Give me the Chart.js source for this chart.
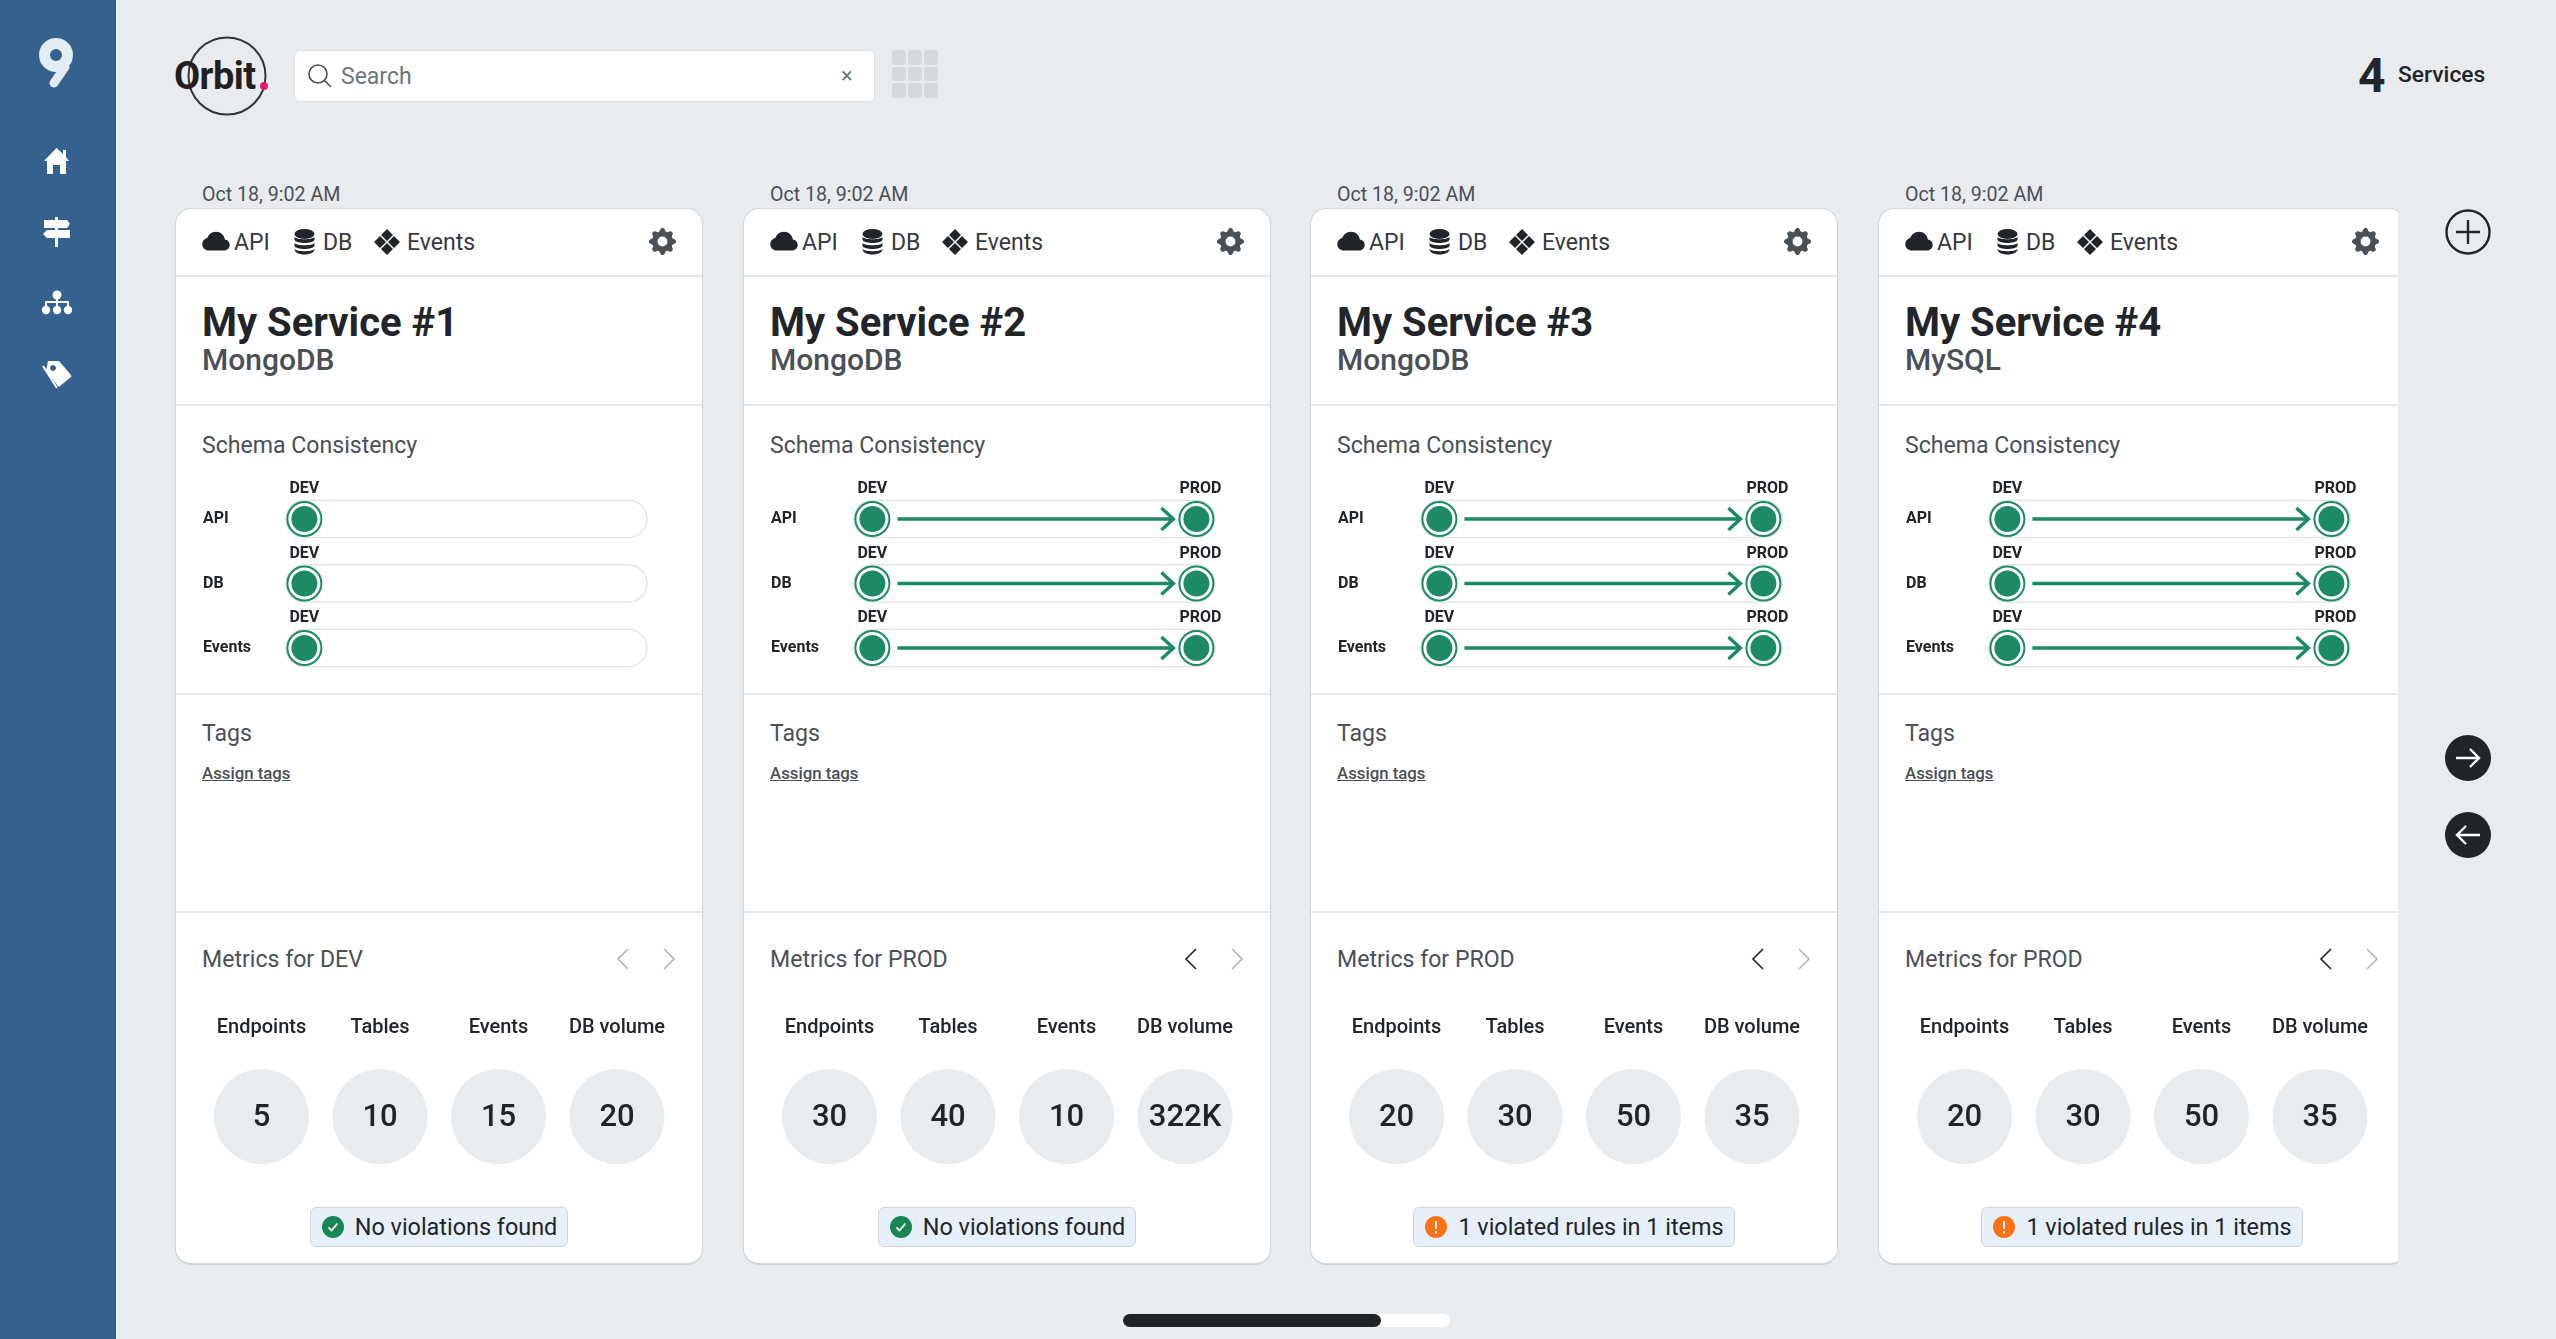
<!DOCTYPE html>
<html>
<head>
<meta charset="utf-8">
<title>Orbit services</title>
<script src="https://cdn.jsdelivr.net/npm/chart.js@4"></script>
<style>
html, body { margin: 0; padding: 0; width: 2556px; height: 1339px; overflow: hidden; background: #e9ecef; font-family: Roboto, sans-serif; color: #212529; }
.abs { position: absolute; }
#sidebar { left: 0; top: 0; width: 116px; height: 1339px; background: #35618f; }
#orbit { left: 181px; top: 36px; width: 92px; height: 80px; }
#orbitText { left: 174px; top: 54px; font: 700 38px Roboto, sans-serif; letter-spacing: -0.6px; color: #231f20; }
#search { left: 294px; top: 50px; width: 581px; height: 52px; background: #fff; border: 1px solid #dee2e6; border-radius: 6px; box-sizing: border-box; }
#searchText { left: 341px; top: 63px; font-size: 23px; color: #6c757d; }
#searchX { left: 841px; top: 63px; font-size: 22px; color: #6c757d; }
#grid { left: 892px; top: 50px; width: 48px; display: grid; grid-template-columns: repeat(3, 14px); grid-auto-rows: 14.5px; gap: 2px; }
#grid div { background: #d6d9dc; border-radius: 3px; }
#count { left: 2358px; top: 47px; font: 700 48px Roboto, sans-serif; }
#countLabel { left: 2398px; top: 61px; font: 500 22.8px Roboto, sans-serif; }
#clip { left: 0; top: 170px; width: 2398px; height: 1110px; overflow: hidden; }
.card { position: absolute; top: 38px; width: 528px; height: 1057px; background: #fff; border: 1px solid #ced4da; border-bottom-width: 2px; border-radius: 16px; box-sizing: border-box; }
.date { position: absolute; top: 12.5px; font-size: 19.6px; color: #495057; }
.t { position: absolute; white-space: nowrap; }
.rule { position: absolute; left: 0; width: 100%; height: 2px; background: #e4e7ea; }
.sec { font-size: 23.1px; color: #495057; left: 26px; }
.head { font-size: 23px; color: #343a40; }
.badge { position: absolute; top: 998px; height: 40px; left: 0; right: 0; display: flex; justify-content: center; }
.badge div { display: flex; align-items: center; height: 40px; box-sizing: border-box; background: #e7f0fa; border: 1px solid #ced4da; border-radius: 6px; padding: 0 10px 0 11px; font-size: 23.4px; color: #212529; }
.badge svg { margin-right: 11px; }
canvas { position: absolute; }
#track { left: 1123px; top: 1314px; width: 327px; height: 13px; background: #fff; border-radius: 7px; }
#thumb { left: 1123px; top: 1314px; width: 258px; height: 13px; background: #212529; border-radius: 7px; }
</style>
</head>
<body>
<div class="abs" id="sidebar"></div>
<svg class="abs" style="left:36px;top:36px" width="40" height="54" viewBox="0 0 40 54" fill="none" stroke="#e3ebf3"><circle cx="20" cy="19" r="11.5" stroke-width="11"/><path d="M29 31L18 47" stroke-width="9" stroke-linecap="round"/></svg>
<svg class="abs" style="left:44px;top:148px" width="25" height="26" viewBox="0 0 25 26"><path d="M12.5 0L19 6V2h3v7l3 4h-3v13h-6v-9H9v9H3V13H0z" fill="#fff"/></svg>
<svg class="abs" style="left:43px;top:217px" width="28" height="31" viewBox="0 0 28 31" fill="#fff"><path d="M1 3H24L27 7L24 11H1Z"/><path d="M4 13H27V21H4L0 17Z"/><rect x="12" y="0" width="3" height="30"/></svg>
<svg class="abs" style="left:41px;top:290px" width="32" height="25" viewBox="0 0 32 25" fill="#fff"><circle cx="16" cy="5" r="4.500"/><rect x="15" y="8" width="2" height="8"/><rect x="4" y="11" width="24" height="2"/><rect x="4" y="11" width="2" height="6"/><rect x="26" y="11" width="2" height="6"/><circle cx="5" cy="20" r="4.200"/><circle cx="16" cy="20" r="4.200"/><circle cx="27" cy="20" r="4.200"/></svg>
<svg class="abs" style="left:41px;top:360px" width="31" height="30" viewBox="0 0 31 30"><path fill-rule="evenodd" d="M7 1h11l12 14c.5 1 .5 1.500 0 2L19 26c-1 .8-1.500.8-2 0L5 11zM12 5a3 3 0 1 0 .01 0z" fill="#fff"/><path d="M2 6L16 28" stroke="#fff" stroke-width="2" fill="none"/></svg>
<svg class="abs" id="orbit" viewBox="0 0 92 80"><circle cx="46" cy="40" r="38.5" fill="none" stroke="#333" stroke-width="2"/></svg>
<div class="abs" id="orbitText">Orbit</div>
<div class="abs" style="left:260px;top:82px;width:8px;height:8px;border-radius:4px;background:#e8186f"></div>
<div class="abs" id="search"></div>
<svg class="abs" style="left:307px;top:63px" width="26" height="26" viewBox="0 0 26 26" fill="none" stroke="#495057" stroke-width="1.6"><circle cx="11" cy="11" r="9"/><path d="M17.5 17.5 L24 24"/></svg>
<div class="abs" id="searchText">Search</div>
<div class="abs" id="searchX">×</div>
<div class="abs" id="grid"><div></div><div></div><div></div><div></div><div></div><div></div><div></div><div></div><div></div></div>
<div class="abs" id="count">4</div>
<div class="abs" id="countLabel">Services</div>
<div class="abs" id="clip"></div>
<svg class="abs" style="left:2445px;top:209px" width="46" height="46" viewBox="0 0 46 46" fill="none" stroke="#212529" stroke-width="2.4"><circle cx="23" cy="23" r="21.5"/><path d="M23 11V35M11 23H35"/></svg>
<svg class="abs" style="left:2445px;top:735px" width="46" height="46" viewBox="0 0 46 46"><circle cx="23" cy="23" r="23" fill="#212529"/><path d="M11 23H34M25 14L34 23L25 32" fill="none" stroke="#fff" stroke-width="2.4"/></svg>
<svg class="abs" style="left:2445px;top:812px" width="46" height="46" viewBox="0 0 46 46"><circle cx="23" cy="23" r="23" fill="#212529"/><path d="M35 23H12M21 14L12 23L21 32" fill="none" stroke="#fff" stroke-width="2.4"/></svg>
<div class="abs" id="track"></div>
<div class="abs" id="thumb"></div>

<script>
const services = ['My Service #1', 'My Service #2', 'My Service #3', 'My Service #4'];
const databases = ['MongoDB', 'MongoDB', 'MongoDB', 'MySQL'];
const stages = ['DEV', 'PROD'];
const rows = ['API', 'DB', 'Events'];
const stagesReached = [1, 2, 2, 2];
const metricNames = ['Endpoints', 'Tables', 'Events', 'DB volume'];
const metricEnv = ['DEV', 'PROD', 'PROD', 'PROD'];
const endpoints = [5, 30, 20, 20];
const tables = [10, 40, 30, 30];
const events = [15, 10, 50, 50];
const dbVolume = [20, 322000, 35, 35];
const violations = ['No violations found', 'No violations found', '1 violated rules in 1 items', '1 violated rules in 1 items'];
const dateLabel = 'Oct 18, 9:02 AM';

const green = '#1d8a66';
const cardLefts = [175, 743, 1310, 1878];

const cloud = '<svg width="28" height="24" viewBox="0 0 16 14"><path fill="#212529" d="M4.406 2.342A5.53 5.53 0 0 1 8 1c2.69 0 4.923 2 5.166 4.579C14.758 5.804 16 7.137 16 8.773 16 10.569 14.502 12 12.687 12H3.781C1.708 12 0 10.366 0 8.318c0-1.763 1.266-3.223 2.942-3.593.143-.863.698-1.723 1.464-2.383z"/></svg>';
const dbIcon = '<svg width="21" height="26" viewBox="0 0 21 26" fill="#212529"><ellipse cx="10.5" cy="5" rx="10" ry="5"/><path d="M.5 8c2 3 18 3 20 0v3c-2 4-18 4-20 0zM.5 14c2 3 18 3 20 0v3c-2 4-18 4-20 0zM.5 20c2 3 18 3 20 0v1c-2 6-18 6-20 0z"/></svg>';
const diamonds = '<svg width="26" height="26" viewBox="0 0 26 26" fill="#212529"><path d="M13 0l6 6-6 6-6-6zM6 7l6 6-6 6-6-6zM20 7l6 6-6 6-6-6zM13 14l6 6-6 6-6-6z"/></svg>';
const gear = '<svg width="27" height="27" viewBox="0 0 16 16"><path fill="#495057" d="M9.405 1.05c-.413-1.4-2.397-1.4-2.81 0l-.1.34a1.464 1.464 0 0 1-2.105.872l-.31-.17c-1.283-.698-2.686.705-1.987 1.987l.169.311c.446.82.023 1.841-.872 2.105l-.34.1c-1.4.413-1.4 2.397 0 2.81l.34.1a1.464 1.464 0 0 1 .872 2.105l-.17.31c-.698 1.283.705 2.686 1.987 1.987l.311-.169a1.464 1.464 0 0 1 2.105.872l.1.34c.413 1.4 2.397 1.4 2.81 0l.1-.34a1.464 1.464 0 0 1 2.105-.872l.31.17c1.283.698 2.686-.705 1.987-1.987l-.169-.311a1.464 1.464 0 0 1 .872-2.105l.34-.1c1.4-.413 1.4-2.397 0-2.81l-.34-.1a1.464 1.464 0 0 1-.872-2.105l.17-.31c.698-1.283-.705-2.686-1.987-1.987l-.311.169a1.464 1.464 0 0 1-2.105-.872l-.1-.34zM8 10.93a2.929 2.929 0 1 1 0-5.86 2.929 2.929 0 0 1 0 5.858z"/></svg>';
const okIcon = '<svg width="22" height="22" viewBox="0 0 22 22"><circle cx="11" cy="11" r="11" fill="#198754"/><path d="M6.5 11.5l3 3 6-7" fill="none" stroke="#fff" stroke-width="1.8"/></svg>';
const warnIcon = '<svg width="22" height="22" viewBox="0 0 22 22"><circle cx="11" cy="11" r="11" fill="#fd7014"/><path d="M11 5v8M11 15v2.4" fill="none" stroke="#fff" stroke-width="2"/></svg>';

function chevron(x, dir, color) {
  const d = dir < 0 ? 'M12 1L2 11L12 21' : 'M2 1L12 11L2 21';
  return '<svg class="t" style="left:' + x + 'px;top:739px" width="14" height="22" viewBox="0 0 14 22"><path d="' + d + '" fill="none" stroke="' + color + '" stroke-width="1.6"/></svg>';
}

function formatValue(v) {
  return v >= 1000 ? Math.round(v / 1000) + 'K' : String(v);
}

// DEV / PROD over each dot, and the arrow between them once a row is promoted
const schemaMarks = {
  id: 'schemaMarks',
  afterDatasetsDraw(chart, args, opts) {
    const c = chart.ctx;
    const x = chart.scales.x;
    const y = chart.scales.y;
    rows.forEach(function (row) {
      const py = y.getPixelForValue(rows.indexOf(row));
      c.save();
      c.font = '700 16px Roboto';
      c.fillStyle = '#212529';
      c.textAlign = 'center';
      c.textBaseline = 'middle';
      stages.slice(0, opts.reached).forEach(function (s, i) {
        c.fillText(s, x.getPixelForValue(i) + (i ? 4 : 0), py - 30);
      });
      if (opts.reached > 1) {
        const x0 = x.getPixelForValue(0) + 25;
        const x1 = x.getPixelForValue(1) - 23;
        c.strokeStyle = green;
        c.lineWidth = 3.4;
        c.beginPath();
        c.moveTo(x0, py);
        c.lineTo(x1, py);
        c.moveTo(x1 - 12, py - 11);
        c.lineTo(x1, py);
        c.lineTo(x1 - 12, py + 11);
        c.stroke();
      }
      c.restore();
    });
  }
};

// the value in the middle of each metric circle
const metricValues = {
  id: 'metricValues',
  afterDatasetsDraw(chart) {
    const c = chart.ctx;
    const meta = chart.getDatasetMeta(0);
    c.save();
    c.font = '500 31px Roboto';
    c.fillStyle = '#212529';
    c.textAlign = 'center';
    c.textBaseline = 'middle';
    meta.data.forEach(function (pt, i) {
      c.fillText(formatValue(chart.data.datasets[0].data[i].v), pt.x, pt.y + 2);
    });
    c.restore();
  }
};

function addText(card, cls, left, top, css, text) {
  const el = document.createElement('div');
  el.className = 't ' + cls;
  el.style.cssText = 'left:' + left + 'px;top:' + top + 'px;' + css;
  el.textContent = text;
  card.appendChild(el);
}

function schemaChart(canvas, reached) {
  const reachedStages = stages.slice(0, reached);
  const dots = rows.flatMap(function (r) {
    return reachedStages.map(function (s) { return { x: s, y: r }; });
  });
  const datasets = [
    { data: dots, showLine: false, pointRadius: 13, pointBackgroundColor: green, pointBorderWidth: 0, order: 0, clip: false },
    { data: dots, showLine: false, pointRadius: 17, pointBackgroundColor: '#fff', pointBorderColor: green, pointBorderWidth: 2, order: 1, clip: false }
  ];
  rows.forEach(function (r) {
    const line = stages.map(function (s) { return { x: s, y: r }; });
    datasets.push({ data: line, pointRadius: 0, borderColor: '#fff', borderWidth: 36, borderCapStyle: 'round', order: 2, clip: false });
    datasets.push({ data: line, pointRadius: 0, borderColor: '#dee2e6', borderWidth: 38.5, borderCapStyle: 'round', order: 3, clip: false });
  });
  new Chart(canvas, {
    type: 'line',
    data: { datasets: datasets },
    options: {
      responsive: false,
      animation: false,
      layout: { padding: { left: 27, right: 74.6, top: 58, bottom: 43 } },
      plugins: { legend: { display: false }, tooltip: { enabled: false }, schemaMarks: { reached: reached } },
      scales: {
        x: { type: 'category', labels: stages, display: false, offset: false },
        y: {
          type: 'category', labels: rows, offset: false,
          afterFit(s) { s.width = 101.4; },
          grid: { display: false }, border: { display: false },
          ticks: { crossAlign: 'far', padding: 0, color: '#212529', font: { family: 'Roboto', size: 16, weight: '700' } }
        }
      }
    },
    plugins: [schemaMarks]
  });
}

function metricChart(canvas, i) {
  const values = [endpoints[i], tables[i], events[i], dbVolume[i]];
  new Chart(canvas, {
    type: 'line',
    data: {
      datasets: [{
        data: metricNames.map(function (m, j) { return { x: m, y: metricEnv[i], v: values[j] }; }),
        showLine: false, pointRadius: 47.5, pointBackgroundColor: '#e9ecef', pointBorderWidth: 0, clip: false
      }]
    },
    options: {
      responsive: false,
      animation: false,
      layout: { padding: { left: 85.5, right: 86, top: 0, bottom: 2 } },
      plugins: { legend: { display: false }, tooltip: { enabled: false } },
      scales: {
        x: {
          type: 'category', labels: metricNames, position: 'top', offset: false,
          afterFit(s) { s.height = 34; },
          grid: { display: false }, border: { display: false },
          ticks: { padding: 4, maxRotation: 0, autoSkip: false, color: '#212529', font: { family: 'Roboto', size: 20, weight: '500' } }
        },
        y: { type: 'category', labels: [metricEnv[i]], offset: true, display: false }
      }
    },
    plugins: [metricValues]
  });
}

const clip = document.getElementById('clip');
services.forEach(function (name, i) {
  const left = cardLefts[i];
  const date = document.createElement('div');
  date.className = 'date';
  date.style.left = (left + 27) + 'px';
  date.textContent = dateLabel;
  clip.appendChild(date);

  const card = document.createElement('div');
  card.className = 'card';
  card.style.left = left + 'px';
  clip.appendChild(card);

  // offsets inside the card are measured from y = 208, x = left
  card.insertAdjacentHTML('beforeend',
    '<div class="t" style="left:26px;top:21px">' + cloud + '</div>' +
    '<div class="t" style="left:118px;top:20px">' + dbIcon + '</div>' +
    '<div class="t" style="left:198px;top:20px">' + diamonds + '</div>' +
    '<div class="t" style="left:473px;top:19px">' + gear + '</div>' +
    '<div class="rule" style="top:66px"></div><div class="rule" style="top:195px"></div>' +
    '<div class="rule" style="top:484px"></div><div class="rule" style="top:702px"></div>');
  addText(card, 'head', 58, 20, '', 'API');
  addText(card, 'head', 147, 20, '', 'DB');
  addText(card, 'head', 231, 20, '', 'Events');
  addText(card, '', 26, 90, 'font:700 40px Roboto;', name);
  addText(card, '', 26, 133, 'font:500 30px Roboto;color:#495057;', databases[i]);
  addText(card, 'sec', 26, 223, '', 'Schema Consistency');
  addText(card, 'sec', 26, 511, '', 'Tags');
  addText(card, '', 26, 554, 'font:500 16.8px Roboto;color:#495057;text-decoration:underline;', 'Assign tags');
  addText(card, 'sec', 26, 737, '', 'Metrics for ' + metricEnv[i]);
  card.insertAdjacentHTML('beforeend',
    chevron(440, -1, i === 0 ? '#adb5bd' : '#212529') + chevron(486, 1, '#adb5bd'));

  const schema = document.createElement('canvas');
  schema.width = 527; schema.height = 230;
  schema.style.cssText = 'left:0;top:252px';
  card.appendChild(schema);
  schemaChart(schema, stagesReached[i]);

  const metric = document.createElement('canvas');
  metric.width = 527; metric.height = 225;
  metric.style.cssText = 'left:0;top:795px';
  card.appendChild(metric);
  metricChart(metric, i);

  card.insertAdjacentHTML('beforeend', '<div class="badge"><div>' + (i < 2 ? okIcon : warnIcon) + '<span>' + violations[i] + '</span></div></div>');
});
</script>
</body>
</html>
